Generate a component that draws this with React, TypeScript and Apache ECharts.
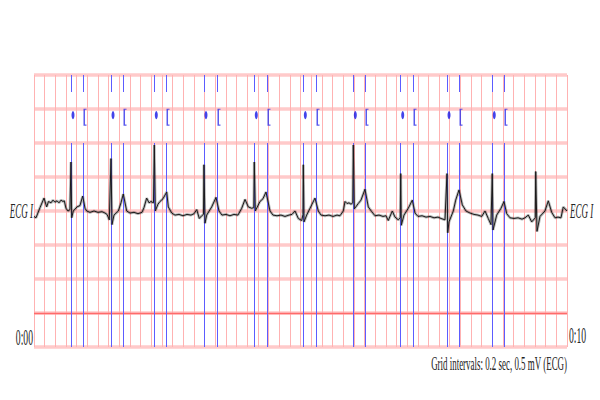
import { useEffect, useRef } from 'react'
import * as echarts from 'echarts'

// ECG lead I, seconds vs mV
const ecgTrace: [number, number][] = [
  [0.0, -0.08], [0.038, -0.1], [0.113, 0.05], [0.188, 0.19], [0.238, 0.06], [0.272, 0.14],
  [0.319, 0.12], [0.356, 0.16], [0.394, 0.13], [0.432, 0.15], [0.469, 0.12], [0.507, 0.16],
  [0.544, 0.14], [0.568, 0.15], [0.6, 0.04], [0.638, 0.0], [0.675, 0.02], [0.694, 0.72],
  [0.707, -0.1], [0.737, 0.0], [0.807, 0.06], [0.863, 0.08], [0.914, 0.22], [0.957, 0.04],
  [0.989, 0.0], [1.051, -0.02], [1.126, 0.0], [1.201, -0.02], [1.276, -0.01], [1.332, -0.03],
  [1.37, -0.05], [1.413, -0.13], [1.445, 0.77], [1.463, -0.2], [1.501, -0.06], [1.582, 0.0],
  [1.632, 0.12], [1.675, 0.25], [1.739, 0.0], [1.801, -0.03], [1.876, -0.02], [1.951, -0.04],
  [2.026, -0.02], [2.064, 0.05], [2.114, 0.19], [2.158, 0.12], [2.195, 0.14], [2.242, 0.12],
  [2.257, 0.97], [2.276, 0.0], [2.326, 0.1], [2.364, 0.14], [2.42, 0.18], [2.49, 0.28],
  [2.52, 0.06], [2.583, -0.03], [2.645, -0.06], [2.72, -0.05], [2.795, -0.07], [2.871, -0.05],
  [2.946, -0.06], [3.002, -0.04], [3.053, 0.02], [3.101, -0.11], [3.146, -0.07], [3.18, -0.05],
  [3.189, 0.68], [3.208, -0.18], [3.24, -0.06], [3.334, 0.06], [3.415, 0.2], [3.471, 0.0],
  [3.527, -0.06], [3.602, -0.05], [3.677, -0.07], [3.752, -0.05], [3.827, -0.06], [3.897, 0.04],
  [3.959, 0.17], [4.021, 0.06], [4.084, 0.04], [4.124, 0.05], [4.133, 0.72], [4.152, 0.0],
  [4.24, 0.14], [4.296, 0.18], [4.353, 0.28], [4.428, 0.0], [4.484, -0.06], [4.559, -0.07],
  [4.634, -0.06], [4.709, -0.08], [4.784, -0.06], [4.841, -0.05], [4.897, 0.0], [4.959, -0.11],
  [5.023, -0.14], [5.047, -0.05], [5.053, 0.68], [5.066, -0.16], [5.116, -0.06], [5.21, 0.09],
  [5.272, 0.19], [5.334, 0.0], [5.385, -0.06], [5.46, -0.07], [5.535, -0.06], [5.61, -0.08],
  [5.685, -0.06], [5.741, -0.07], [5.803, 0.0], [5.835, 0.14], [5.872, 0.11], [5.91, 0.12],
  [5.947, 0.1], [5.981, 0.12], [5.991, 0.97], [6.009, 0.03], [6.084, 0.11], [6.135, 0.16],
  [6.21, 0.32], [6.272, 0.06], [6.336, -0.01], [6.398, -0.07], [6.473, -0.06], [6.548, -0.08],
  [6.604, -0.07], [6.647, -0.14], [6.722, 0.0], [6.773, -0.09], [6.835, -0.13], [6.872, -0.1],
  [6.88, 0.55], [6.891, -0.21], [6.942, -0.06], [7.022, 0.04], [7.098, 0.16], [7.148, -0.03],
  [7.205, -0.08], [7.28, -0.07], [7.355, -0.09], [7.43, -0.08], [7.505, -0.1], [7.58, -0.09],
  [7.636, -0.11], [7.711, -0.13], [7.749, 0.55], [7.762, -0.32], [7.786, -0.16], [7.867, 0.0],
  [7.912, 0.16], [7.974, 0.31], [8.036, 0.09], [8.105, 0.0], [8.18, -0.03], [8.255, -0.05],
  [8.33, -0.06], [8.4, -0.08], [8.462, 0.0], [8.523, -0.11], [8.574, -0.2], [8.598, 0.55],
  [8.612, -0.28], [8.681, -0.06], [8.762, 0.04], [8.818, 0.14], [8.869, -0.04], [8.931, -0.1],
  [9.006, -0.11], [9.081, -0.1], [9.156, -0.12], [9.212, -0.1], [9.274, -0.06], [9.338, -0.16],
  [9.405, -0.1], [9.413, 0.58], [9.437, -0.3], [9.493, -0.08], [9.587, 0.0], [9.649, 0.15],
  [9.713, -0.02], [9.775, -0.1], [9.831, -0.09], [9.887, -0.1], [9.93, 0.06], [10.0, 0.0],
]

// annotation times (s)
const beatTimes = [0.694, 1.445, 2.257, 3.189, 4.133, 5.053, 5.991, 6.88, 7.749, 8.598]
const tWaveTimes = [0.919, 1.67, 2.477, 3.433, 4.371, 5.291, 6.21, 7.111, 7.974, 8.818]

const leadName = 'ECG I'
const startLabel = '0:00'
const endLabel = '0:10'
const gridNote = 'Grid intervals: 0.2 sec, 0.5 mV (ECG)'

const SERIF = '"Liberation Serif", "DejaVu Serif", serif'
const ANNO_ROW = 1.41
const ANNO_BLUE = '#5c5cff'

export default function App() {
  const chartRef = useRef<HTMLDivElement>(null)

  useEffect(() => {
    if (!chartRef.current) return
    const chart = echarts.init(chartRef.current, undefined, { renderer: 'svg' })

    const annoStyle = { color: ANNO_BLUE, width: 1, type: 'solid', opacity: 1 }
    const annoLines: any[] = []
    ;[...beatTimes, ...tWaveTimes].forEach((t) => {
      annoLines.push([{ coord: [t, 2], lineStyle: annoStyle }, { coord: [t, 1.75] }])
      annoLines.push([{ coord: [t, 1.0], lineStyle: annoStyle }, { coord: [t, -2] }])
    })

    const option: echarts.EChartsOption = {
      animation: false,
      backgroundColor: '#ffffff',
      grid: { left: 34, top: 75, width: 533, height: 272 },
      xAxis: {
        type: 'value',
        min: 0,
        max: 10,
        interval: 0.2,
        axisLine: { show: false },
        axisTick: { show: false },
        axisLabel: { show: false },
        splitLine: { lineStyle: { color: '#ffb2b2', width: 1 } },
      },
      yAxis: {
        type: 'value',
        min: -2,
        max: 2,
        interval: 0.5,
        axisLine: { show: false },
        axisTick: { show: false },
        axisLabel: { show: false },
        splitLine: { lineStyle: { color: '#ffcaca', width: 3.5 } },
      },
      graphic: [
        {
          type: 'text', x: 33, y: 211, scaleX: 0.45,
          style: { text: leadName, font: `italic 20px ${SERIF}`, fill: '#222', align: 'right', verticalAlign: 'middle' },
        },
        {
          type: 'text', x: 570, y: 211, scaleX: 0.45,
          style: { text: leadName, font: `italic 20px ${SERIF}`, fill: '#222', align: 'left', verticalAlign: 'middle' },
        },
        {
          type: 'text', x: 33, y: 337, scaleX: 0.42,
          style: { text: startLabel, font: `23px ${SERIF}`, fill: '#222', align: 'right', verticalAlign: 'middle' },
        },
        {
          type: 'text', x: 569, y: 335, scaleX: 0.42,
          style: { text: endLabel, font: `23px ${SERIF}`, fill: '#222', align: 'left', verticalAlign: 'middle' },
        },
        {
          type: 'text', x: 567, y: 364, scaleX: 0.47,
          style: { text: gridNote, font: `19px ${SERIF}`, fill: '#222', align: 'right', verticalAlign: 'middle' },
        },
      ],
      series: [
        {
          type: 'line',
          data: [],
          z: 1,
          silent: true,
          color: '#ff6a6a',
          markLine: {
            silent: true,
            symbol: 'none',
            label: { show: false },
            lineStyle: { color: '#ff6a6a', width: 1.3, type: 'solid' },
            data: [{ yAxis: -1.5 }],
          },
        },
        {
          type: 'line',
          data: [],
          z: 2,
          silent: true,
          color: ANNO_BLUE,
          markLine: {
            silent: true,
            symbol: 'none',
            label: { show: false },
            lineStyle: { color: ANNO_BLUE, width: 1, type: 'solid' },
            data: annoLines,
          },
        },
        {
          type: 'scatter',
          z: 3,
          data: beatTimes.map((t) => [t, ANNO_ROW]),
          symbol: 'circle',
          symbolSize: [3, 8],
          symbolOffset: [2, 0],
          itemStyle: { color: '#1414e6' },
        },
        {
          type: 'scatter',
          z: 3,
          data: tWaveTimes.map((t) => [t, ANNO_ROW - 0.03]),
          symbol: 'path://M0,0 L3,0 L3,1 L1.5,1 L1.5,15 L3,15 L3,16 L0,16 Z',
          symbolSize: [3, 17],
          symbolOffset: [2, 0],
          itemStyle: { color: '#3030e8' },
        },
        {
          type: 'line',
          z: 4,
          data: ecgTrace,
          symbol: 'none',
          lineStyle: { color: 'rgba(0,0,0,0.28)', width: 2.8 },
        },
        {
          type: 'line',
          z: 5,
          data: ecgTrace,
          symbol: 'none',
          lineStyle: { color: '#1a1a1a', width: 1 },
        },
      ],
    }

    chart.setOption(option)

    return () => {
      chart.dispose()
    }
  }, [])

  return (
    <div
      ref={chartRef}
      style={{ position: 'fixed', left: 0, top: 0, width: 600, height: 400, background: '#fff' }}
    />
  )
}
